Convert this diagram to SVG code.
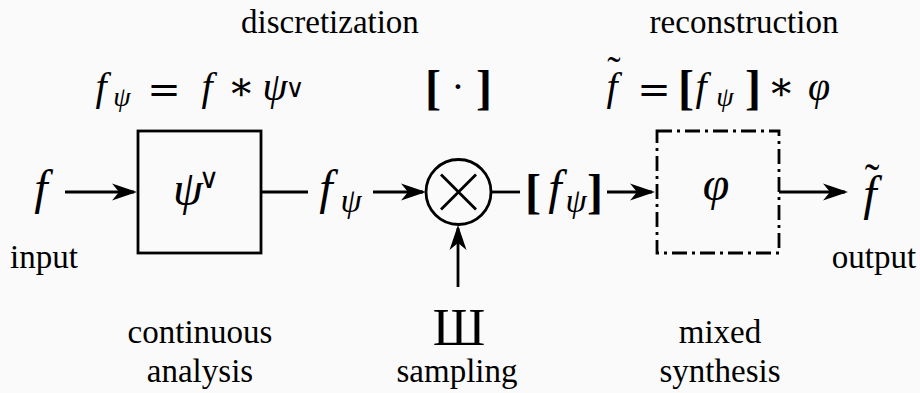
<svg xmlns="http://www.w3.org/2000/svg" width="920" height="393" viewBox="0 0 920 393">
<defs>
<marker id="ah" viewBox="-23 -10 27 20" markerWidth="27" markerHeight="20" refX="0" refY="0" orient="auto" markerUnits="userSpaceOnUse">
<path d="M3,0 L-22,-8.5 L-15,0 L-22,8.5 Z" fill="#000"/>
</marker>
<style>
.lbl{font-family:"Liberation Serif","Times New Roman",serif;font-size:33px;fill:#000;text-anchor:middle}
.sha{font-family:"Liberation Serif","Times New Roman",serif;font-size:52px;fill:#000;text-anchor:middle}
.m{font-family:"Liberation Serif","DejaVu Serif",serif;font-style:italic;fill:#000;text-anchor:middle}
.u{font-style:normal}
.d{font-family:"DejaVu Serif",serif;font-style:normal}
.b{font-style:normal;font-weight:bold}
.v{font-family:"DejaVu Sans",sans-serif;font-style:normal}
.ln{stroke:#000;stroke-width:2.8;fill:none}
.arr{stroke:#000;stroke-width:2.8;fill:none;marker-end:url(#ah)}
</style>
</defs>
<rect x="0" y="0" width="920" height="393" fill="#fafafa"/>

<g id="connectors">
<path class="arr" d="M65,192 H134"/>
<path class="ln" d="M261,192 H308"/>
<path class="arr" d="M373,192 H423"/>
<path class="ln" d="M491,192 H520"/>
<path class="arr" d="M607,192 H652"/>
<path class="arr" d="M779,192 H845"/>
<path class="arr" d="M458,287 V228"/>
</g>

<g id="input">
<text class="m" x="41" y="204" font-size="48">f</text>
<text class="lbl" x="44" y="268">input</text>
</g>

<g id="analysis">
<text class="m" y="100" font-size="40"><tspan x="101">f</tspan><tspan x="122" y="106" font-size="28">ψ</tspan><tspan class="d" x="164" y="103">=</tspan><tspan x="207" y="100">f</tspan><tspan class="d" x="241" y="100">∗</tspan><tspan x="275" y="100">ψ</tspan><tspan class="v" x="295" y="97" font-size="26">∨</tspan></text>
<rect class="ln" x="138" y="131" width="123" height="122"/>
<text class="m" y="205" font-size="48"><tspan x="188">ψ</tspan><tspan class="v" x="209" y="188" font-size="28">∨</tspan></text>
<text class="lbl" x="200" y="343">continuous</text>
<text class="lbl" x="200" y="382">analysis</text>
</g>

<g id="fpsi">
<text class="m" y="204" font-size="48"><tspan x="326">f</tspan><tspan x="351" y="212" font-size="34">ψ</tspan></text>
</g>

<g id="sampler">
<text class="lbl" x="330" y="33">discretization</text>
<text class="m" y="104" font-size="48"><tspan class="b" x="433">[</tspan><tspan class="u" x="458" y="100" font-size="40">·</tspan><tspan class="b" x="484" y="104">]</tspan></text>
<circle class="ln" cx="458.5" cy="192" r="32.5"/>
<path class="ln" d="M441,174.5 L476,209.5 M476,174.5 L441,209.5"/>
<text class="sha" x="459" y="345">Ш</text>
<text class="lbl" x="457" y="382">sampling</text>
</g>

<g id="sampled">
<text class="m" y="208" font-size="48"><tspan class="b" x="533">[</tspan><tspan x="555" y="204">f</tspan><tspan x="576" y="212" font-size="34">ψ</tspan><tspan class="b" x="595" y="208">]</tspan></text>
</g>

<g id="synthesis">
<text class="lbl" x="744" y="33">reconstruction</text>
<text class="m" y="100" font-size="40"><tspan class="u" x="614" y="84">˜</tspan><tspan x="612" y="100">f</tspan><tspan class="d" x="654" y="103">=</tspan><tspan class="b" x="686" y="104" font-size="48">[</tspan><tspan x="701" y="100">f</tspan><tspan x="725" y="106" font-size="28">ψ</tspan><tspan class="b" x="753" y="104" font-size="48">]</tspan><tspan class="d" x="781" y="100">∗</tspan><tspan x="819" y="100">φ</tspan></text>
<rect class="ln" x="657" y="131" width="122" height="122" stroke-dasharray="15 5 3 5"/>
<text class="m" x="716" y="200" font-size="48">φ</text>
<text class="lbl" x="720" y="343">mixed</text>
<text class="lbl" x="720" y="382">synthesis</text>
</g>

<g id="output">
<text class="m" y="210" font-size="48"><tspan class="u" x="872" y="194" font-size="44">˜</tspan><tspan x="870" y="210">f</tspan></text>
<text class="lbl" x="874" y="268">output</text>
</g>
</svg>
